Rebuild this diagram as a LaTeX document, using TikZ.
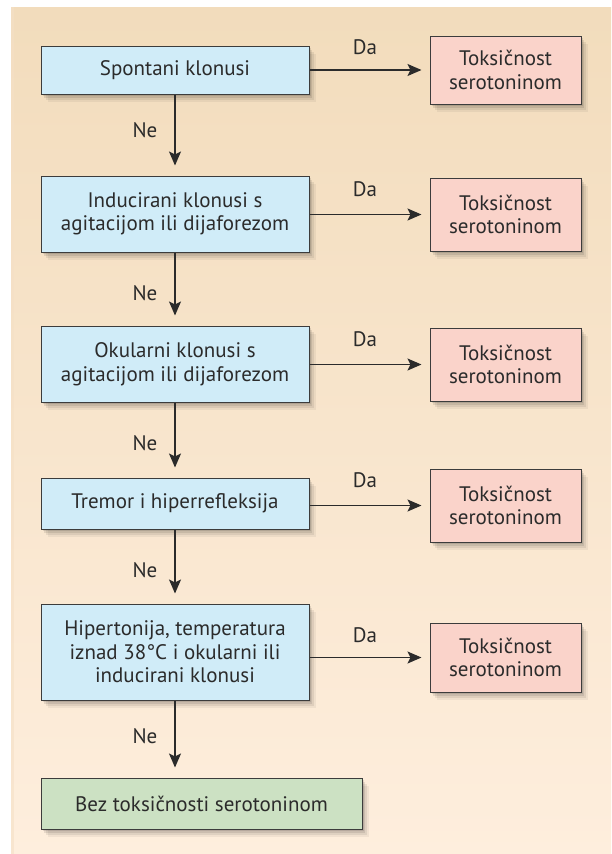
\documentclass[tikz,border=0pt]{standalone}
\usepackage{fontspec}
\setmainfont{PT Sans}
\usetikzlibrary{arrows.meta,shadows}
\definecolor{bgtop}{HTML}{F2DCBC}
\definecolor{bgbot}{HTML}{FEEEDD}
\definecolor{bgedge}{HTML}{F5E0C6}
\definecolor{bluefill}{HTML}{D0ECF8}
\definecolor{pinkfill}{HTML}{FAD3CA}
\definecolor{greenfill}{HTML}{CCE1C3}
\definecolor{edgecol}{HTML}{3C3C3C}
\definecolor{ink}{HTML}{2B2B2B}
\begin{document}
\begin{tikzpicture}[x=1pt,y=-1pt,
  txt/.style={text=ink, font=\fontsize{21}{23.5}\selectfont},
  softshadow/.style={
    drop shadow={shadow xshift=2pt, shadow yshift=-2pt, opacity=0.10, fill=black},
    drop shadow={shadow xshift=3pt, shadow yshift=-4pt, opacity=0.09, fill=black},
    drop shadow={shadow xshift=5pt, shadow yshift=-6pt, opacity=0.07, fill=black},
    drop shadow={shadow xshift=7pt, shadow yshift=-8pt, opacity=0.05, fill=black}},
  box/.style={txt, draw=edgecol, line width=1pt, align=center, inner sep=0pt, softshadow},
  qbox/.style={box, fill=bluefill, minimum width=268pt},
  ybox/.style={box, fill=pinkfill, minimum width=151pt},
  nbox/.style={box, fill=greenfill, minimum width=321pt},
  arr/.style={draw=ink, line width=1.3pt, -{Stealth[length=14pt,width=12pt,inset=3pt]}},
  lbl/.style={txt, inner sep=0pt}]
\useasboundingbox (0,0) rectangle (611,854);
\shade[top color=bgtop, bottom color=bgbot] (11,7) rectangle (611,854);
\fill[bgedge, opacity=0.6] (11,7) rectangle (14,854);

% question boxes
\node[qbox, minimum height=48pt] (b1) at (175,70) {Spontani klonusi};
\node[qbox, minimum height=76pt] (b2) at (175,214) {Inducirani klonusi s\\agitacijom ili dijaforezom};
\node[qbox, minimum height=76pt] (b3) at (175,364) {Okularni klonusi s\\agitacijom ili dijaforezom};
\node[qbox, minimum height=51pt] (b4) at (175,503.5) {Tremor i hiperrefleksija};
\node[qbox, minimum height=96pt] (b5) at (175,652) {Hipertonija, temperatura\\iznad 38°C i okularni ili\\inducirani klonusi};
\node[nbox, minimum height=51pt] (b6) at (201.5,803.5) {Bez toksičnosti serotoninom};

% result boxes
\node[ybox, minimum height=68pt] (p1) at (505.5,70) {Toksičnost\\serotoninom};
\node[ybox, minimum height=73pt] (p2) at (505.5,214.5) {Toksičnost\\serotoninom};
\node[ybox, minimum height=73pt] (p3) at (505.5,364.5) {Toksičnost\\serotoninom};
\node[ybox, minimum height=73pt] (p4) at (505.5,505.5) {Toksičnost\\serotoninom};
\node[ybox, minimum height=69pt] (p5) at (505.5,657.5) {Toksičnost\\serotoninom};

% vertical connectors
\draw[arr, shorten >=10pt] (b1) -- (b2);
\draw[arr, shorten >=10pt] (b2) -- (b3);
\draw[arr, shorten >=10pt] (b3) -- (b4);
\draw[arr, shorten >=10pt] (b4) -- (b5);
\draw[arr, shorten >=10pt] (b5.south) -- (b5.south |- b6.north);

% horizontal connectors
\draw[arr, shorten >=8pt] (b1.east |- p1) -- (p1.west);
\draw[arr, shorten >=8pt] (b2.east |- p2) -- (p2.west);
\draw[arr, shorten >=8pt] (b3.east |- p3) -- (p3.west);
\draw[arr, shorten >=8pt] (b4.east |- p4) -- (p4.west);
\draw[arr, shorten >=8pt] (b5.east |- p5) -- (p5.west);

% labels
\node[lbl] (n1) at (145,130) {Ne};
\node[lbl] (n2) at (145,293) {Ne};
\node[lbl] (n3) at (145,443) {Ne};
\node[lbl] (n4) at (145,570) {Ne};
\node[lbl] (n5) at (145,736) {Ne};
\node[lbl] (d1) at (365,47) {Da};
\node[lbl] (d2) at (365,189) {Da};
\node[lbl] (d3) at (365,339) {Da};
\node[lbl] (d4) at (365,480) {Da};
\node[lbl] (d5) at (365,635) {Da};
\end{tikzpicture}
\end{document}
